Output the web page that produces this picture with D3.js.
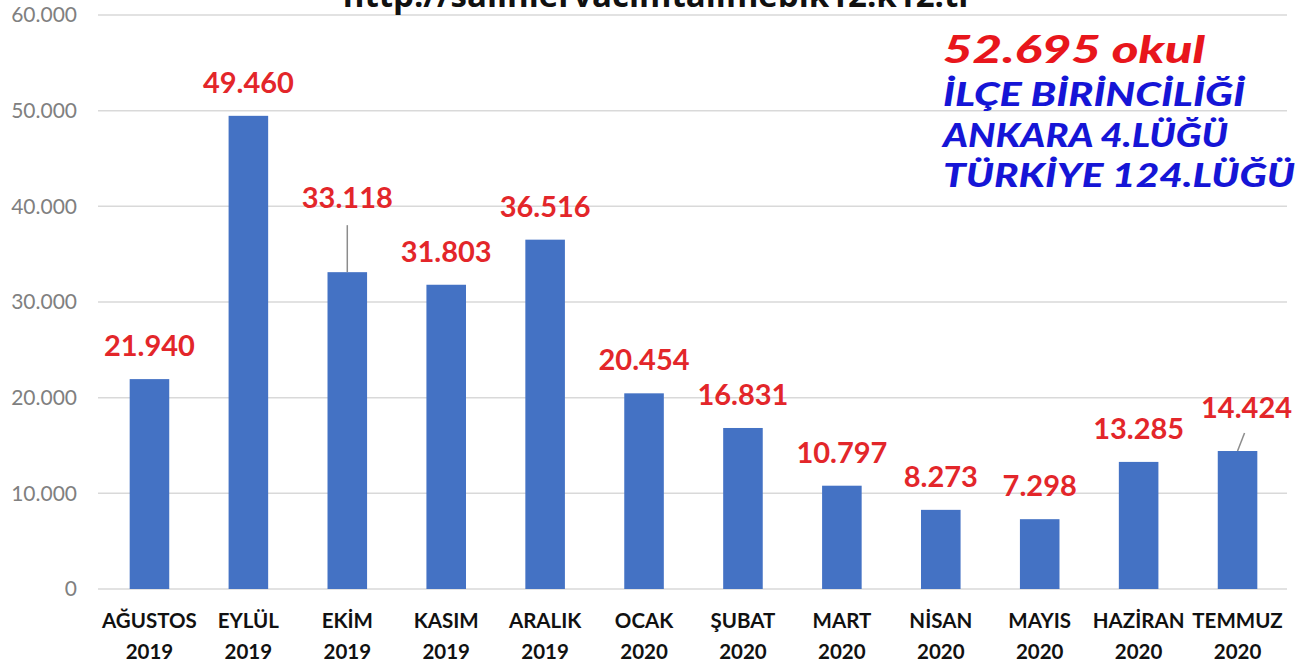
<!DOCTYPE html>
<html><head><meta charset="utf-8">
<script src="https://cdn.jsdelivr.net/npm/d3@7"></script>
<style>
html,body{margin:0;padding:0;background:#fff;}
svg{display:block;}
</style></head>
<body>
<script>
const months = ["AĞUSTOS","EYLÜL","EKİM","KASIM","ARALIK","OCAK","ŞUBAT","MART","NİSAN","MAYIS","HAZİRAN","TEMMUZ"];
const years = ["2019","2019","2019","2019","2019","2020","2020","2020","2020","2020","2020","2020"];
const values = [21940,49460,33118,31803,36516,20454,16831,10797,8273,7298,13285,14424];
const yTicks = [0,10000,20000,30000,40000,50000,60000];
const titleText = "http://salihlervacimtalimebik12.k12.tr";
const noteLines = ["52.695 okul","İLÇE BİRİNCİLİĞİ","ANKARA 4.LÜĞÜ","TÜRKİYE 124.LÜĞÜ"];

const W=1304,H=670;
const svg=d3.select("body").append("svg").attr("width",W).attr("height",H);
const x=d3.scaleBand().domain(d3.range(months.length)).range([100,1287]).paddingInner(0.6).paddingOuter(0.3);
const y=d3.scaleLinear().domain([0,60000]).range([589,15]);
const fmt=v=>d3.format(",")(v).replace(/,/g,".");

// gridlines
svg.append("g").selectAll("line").data(yTicks).join("line")
 .attr("x1",98).attr("x2",1287).attr("y1",d=>y(d)).attr("y2",d=>y(d))
 .attr("stroke","#d9d9d9").attr("stroke-width",1.5);

// y axis labels
const ya=svg.append("g").attr("transform","translate(77,0)")
 .call(d3.axisLeft(y).tickValues(yTicks).tickSize(0).tickPadding(0).tickFormat(d=>fmt(d)));
ya.select(".domain").remove();
ya.selectAll("text").attr("fill","#808080").style("font-family","Lato, 'Noto Sans', sans-serif").style("font-size","21px");

// title (clipped at top as in the source image)
svg.append("text").attr("x",658).attr("y",7).attr("text-anchor","middle")
 .style("font-family","'Open Sans','Noto Sans',sans-serif").style("font-weight","bold")
 .style("font-size","33px").attr("fill","#111").text(titleText);

// bars
svg.append("g").selectAll("rect").data(values).join("rect")
 .attr("x",(d,i)=>x(i)).attr("width",x.bandwidth())
 .attr("y",d=>y(d)).attr("height",d=>y(0)-y(d)).attr("fill","#4472c4");

// label offsets (display only)
const lift = values.map((v,i)=> i===2?64:(i===11?33:23));
const shiftX = values.map((v,i)=> i===11?9:0);

// leader lines
const leaders=[2,11];
svg.append("g").selectAll("line").data(leaders).join("line")
 .attr("x1",i=>x(i)+x.bandwidth()/2).attr("y1",i=>y(values[i]))
 .attr("x2",i=>x(i)+x.bandwidth()/2+(i===11?7:0)).attr("y2",i=>y(values[i])-(i===11?18:47))
 .attr("stroke","#8c8c8c").attr("stroke-width",1.5);

svg.append("g").selectAll("text").data(values).join("text")
 .attr("x",(d,i)=>x(i)+x.bandwidth()/2+shiftX[i]).attr("y",(d,i)=>y(d)-lift[i])
 .attr("text-anchor","middle").attr("fill","#e3262a")
 .style("font-family","Lato, 'Noto Sans', sans-serif").style("font-weight","bold").style("font-size","29px")
 .text(d=>fmt(d));

// x axis labels
const xl=svg.append("g");
xl.selectAll("text.m").data(months).join("text").attr("class","m")
 .attr("x",(d,i)=>x(i)+x.bandwidth()/2).attr("y",628).attr("text-anchor","middle")
 .attr("fill","#111").style("font-family","Lato, 'Noto Sans', sans-serif").style("font-weight","bold").style("font-size","20.5px")
 .text(d=>d);
xl.selectAll("text.yr").data(years).join("text").attr("class","yr")
 .attr("x",(d,i)=>x(i)+x.bandwidth()/2).attr("y",659).attr("text-anchor","middle")
 .attr("fill","#111").style("font-family","Lato, 'Noto Sans', sans-serif").style("font-weight","bold").style("font-size","20.5px")
 .text(d=>d);

// note
const noteY=[63,106,147,187];
const noteSize=[37,33,33,33];
const noteW=[262,302,285,352];
svg.append("g").selectAll("text").data(noteLines).join("text")
 .attr("x",943).attr("y",(d,i)=>noteY[i])
 .attr("fill",(d,i)=>i===0?"#e8161c":"#1515d6")
 .attr("textLength",(d,i)=>noteW[i]).attr("lengthAdjust","spacingAndGlyphs")
 .style("font-family","Lato, 'Noto Sans', sans-serif").style("font-weight","900").style("font-style","italic")
 .style("font-size",(d,i)=>noteSize[i]+"px")
 .text(d=>d);
</script>
</body></html>
